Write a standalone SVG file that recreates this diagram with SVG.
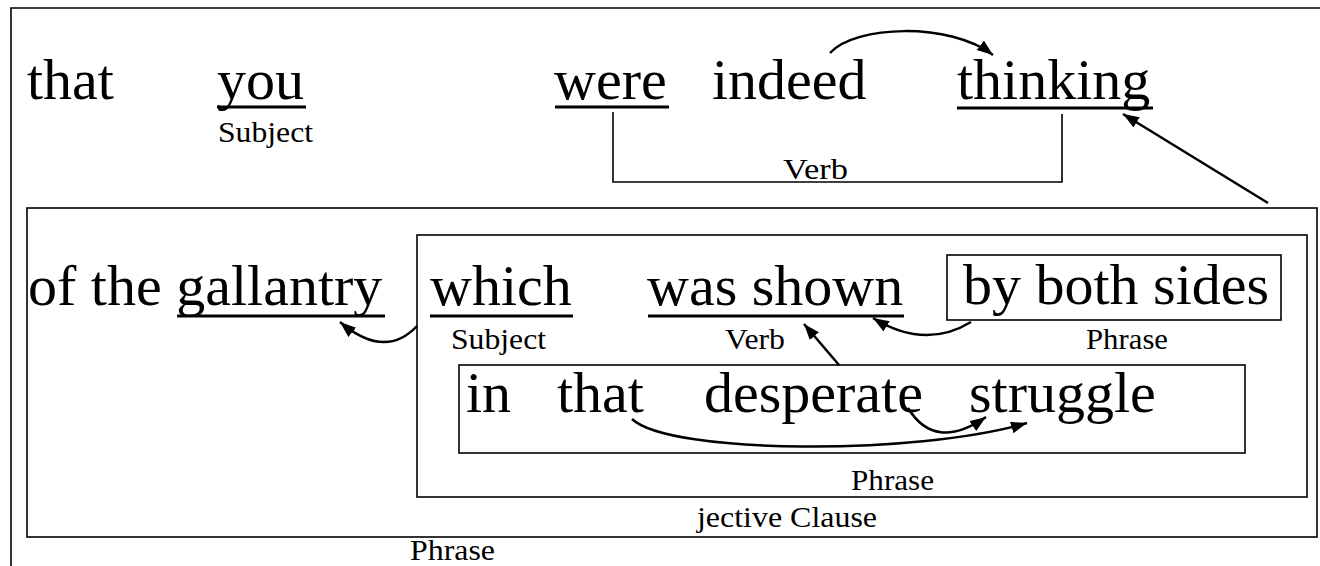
<svg xmlns="http://www.w3.org/2000/svg" width="1320" height="566" viewBox="0 0 1320 566">
<style>
.w{font-family:"Liberation Serif","Times New Roman",serif;font-size:58px;fill:#000}
.l{font-family:"Liberation Serif","Times New Roman",serif;font-size:30px;fill:#000}
.box{fill:none;stroke:#000;stroke-width:1.6}
.ul{stroke:#000;stroke-width:3}
.c{fill:none;stroke:#000;stroke-width:2.5}
.br{fill:none;stroke:#000;stroke-width:1.6}
</style>
<defs>
<marker id="ah" markerUnits="userSpaceOnUse" markerWidth="18" markerHeight="14" refX="16" refY="6" orient="auto">
<path d="M0,0 L16,6 L0,12 z" fill="#000"/>
</marker>
</defs>
<rect width="1320" height="566" fill="#fff"/>
<path class="box" d="M11,566 V8 H1320"/>

<g id="frame-phrase">
<rect class="box" x="27" y="208" width="1290" height="329"/>
<text class="l" x="410" y="560" textLength="85" lengthAdjust="spacingAndGlyphs">Phrase</text>
</g>
<g id="frame-clause">
<rect class="box" x="417" y="235" width="890" height="262"/>
<text class="l" x="697" y="527" textLength="180" lengthAdjust="spacingAndGlyphs">jective Clause</text>
</g>

<g id="n-that"><text class="w" x="27" y="99">that</text></g>
<g id="n-you">
<text class="w" x="217" y="99">you</text>
<line class="ul" x1="217" y1="107" x2="306" y2="107"/>
<text class="l" x="218" y="142" textLength="95" lengthAdjust="spacingAndGlyphs">Subject</text>
</g>
<g id="n-were">
<text class="w" x="554" y="99">were</text>
<line class="ul" x1="555" y1="107" x2="669" y2="107"/>
</g>
<g id="n-indeed"><text class="w" x="712" y="99">indeed</text></g>
<g id="n-thinking">
<text class="w" x="957" y="99">thinking</text>
<line class="ul" x1="957" y1="108" x2="1153" y2="108"/>
</g>
<g id="n-verb1">
<polyline class="br" points="613,112 613,182 1062,182 1062,114"/>
<text class="l" x="783" y="179" textLength="65" lengthAdjust="spacingAndGlyphs">Verb</text>
</g>

<g id="n-ofthe"><text class="w" x="28" y="305">of the gallantry</text>
<line class="ul" x1="177" y1="316" x2="385" y2="316"/>
</g>
<g id="n-which">
<text class="w" x="430" y="305">which</text>
<line class="ul" x1="430" y1="316" x2="573" y2="316"/>
<text class="l" x="451" y="349" textLength="95" lengthAdjust="spacingAndGlyphs">Subject</text>
</g>
<g id="n-wasshown">
<text class="w" x="647" y="305">was shown</text>
<line class="ul" x1="648" y1="316" x2="904" y2="316"/>
<text class="l" x="725" y="349" textLength="60" lengthAdjust="spacingAndGlyphs">Verb</text>
</g>
<g id="n-byboth">
<rect class="box" x="947" y="255" width="334" height="65"/>
<text class="w" x="963" y="304">by both sides</text>
<text class="l" x="1086" y="349" textLength="82" lengthAdjust="spacingAndGlyphs">Phrase</text>
</g>
<g id="n-inthat">
<rect class="box" x="459" y="365" width="786" height="88"/>
<text class="w" x="466" y="412">in</text>
<text class="w" x="557" y="412">that</text>
<text class="w" x="704" y="412">desperate</text>
<text class="w" x="969" y="412">struggle</text>
<text class="l" x="851" y="490" textLength="83" lengthAdjust="spacingAndGlyphs">Phrase</text>
</g>

<g id="connectors">
<path class="c" d="M830,53 C855,25 950,22 993,55" marker-end="url(#ah)"/>
<path class="c" d="M1268,203 L1123,114" marker-end="url(#ah)"/>
<path class="c" d="M417,326 Q385,360 340,322" marker-end="url(#ah)"/>
<path class="c" d="M971,322 Q925,350 873,318" marker-end="url(#ah)"/>
<path class="c" d="M839,365 L804,324" marker-end="url(#ah)"/>
<path class="c" d="M632,419 C670,455 920,455 1027,423" marker-end="url(#ah)"/>
<path class="c" d="M908,408 Q935,452 986,417" marker-end="url(#ah)"/>
</g>
</svg>
